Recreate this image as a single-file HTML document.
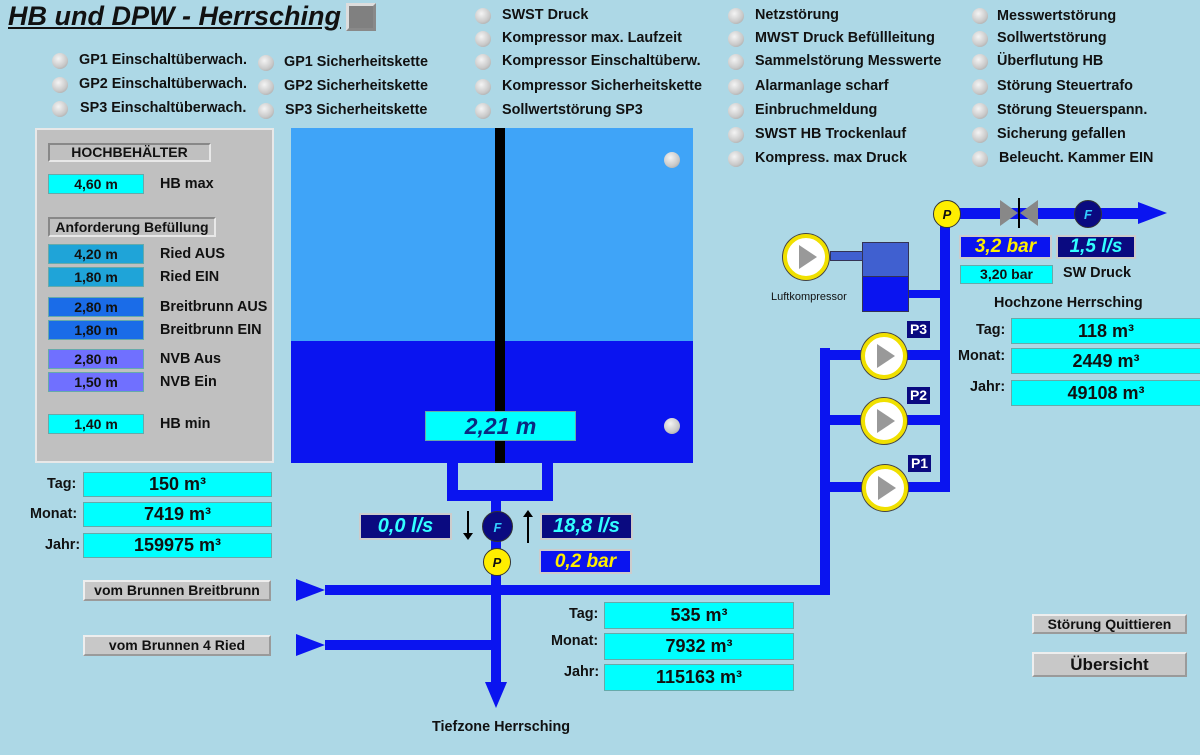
<!DOCTYPE html><html><head><meta charset="utf-8"><style>
body{margin:0;width:1200px;height:755px;background:#add8e6;position:relative;overflow:hidden;font-family:"Liberation Sans",sans-serif;font-weight:bold;color:#111}
.a{position:absolute}
.t{position:absolute;font-size:14.4px;white-space:nowrap}
.led{position:absolute;width:16px;height:16px;border-radius:50%;background:radial-gradient(circle at 40% 35%,#f4f4f4,#c8c8c8 60%,#999);}
.p{position:absolute;background:#0a14f0}
.cy{position:absolute;background:#00ffff;border:1px solid #6aa;box-sizing:border-box;text-align:center}
.btn{position:absolute;background:#c8c8c8;border:2px outset #eee;box-sizing:border-box;text-align:center;font-size:14px}
.pump{position:absolute;width:38px;height:38px;border-radius:50%;background:#fff;border:4px solid #f0e000;box-shadow:0 0 0 1px #444}
.pump:after{content:"";position:absolute;left:12px;top:7px;border-left:18px solid #999;border-top:12px solid transparent;border-bottom:12px solid transparent}
.circ{position:absolute;width:28px;height:28px;border-radius:50%;text-align:center;line-height:28px;font-style:italic;font-size:13px;border:1px solid #333;box-sizing:border-box}
.dk{position:absolute;background:#0a0a80;border:2px solid #ccc;box-sizing:border-box;color:#3ff;font-style:italic;font-size:20px;text-align:center}
</style></head><body>
<div class="a" style="left:8px;top:1px;font-size:27px;font-style:italic;text-decoration:underline">HB und DPW - Herrsching</div>
<div class="a" style="left:346px;top:3px;width:30px;height:28px;background:#808080;border:3px outset #ddd;box-sizing:border-box"></div>

<div class="led" style="left:52px;top:53px"></div><div class="t" style="left:79px;top:52px">GP1 Einschaltüberwach.</div>
<div class="led" style="left:52px;top:77px"></div><div class="t" style="left:79px;top:76px">GP2 Einschaltüberwach.</div>
<div class="led" style="left:52px;top:101px"></div><div class="t" style="left:80px;top:100px">SP3 Einschaltüberwach.</div>
<div class="led" style="left:258px;top:55px"></div><div class="t" style="left:284px;top:54px">GP1 Sicherheitskette</div>
<div class="led" style="left:258px;top:79px"></div><div class="t" style="left:284px;top:78px">GP2 Sicherheitskette</div>
<div class="led" style="left:258px;top:103px"></div><div class="t" style="left:285px;top:102px">SP3 Sicherheitskette</div>

<div class="led" style="left:475px;top:8px"></div><div class="t" style="left:502px;top:7px">SWST Druck</div>
<div class="led" style="left:475px;top:31px"></div><div class="t" style="left:502px;top:30px">Kompressor max. Laufzeit</div>
<div class="led" style="left:475px;top:54px"></div><div class="t" style="left:502px;top:53px">Kompressor Einschaltüberw.</div>
<div class="led" style="left:475px;top:79px"></div><div class="t" style="left:502px;top:78px">Kompressor Sicherheitskette</div>
<div class="led" style="left:475px;top:103px"></div><div class="t" style="left:502px;top:102px">Sollwertstörung SP3</div>

<div class="led" style="left:728px;top:8px"></div><div class="t" style="left:755px;top:7px">Netzstörung</div>
<div class="led" style="left:728px;top:31px"></div><div class="t" style="left:755px;top:30px">MWST Druck Befüllleitung</div>
<div class="led" style="left:728px;top:54px"></div><div class="t" style="left:755px;top:53px">Sammelstörung Messwerte</div>
<div class="led" style="left:728px;top:79px"></div><div class="t" style="left:755px;top:78px">Alarmanlage scharf</div>
<div class="led" style="left:728px;top:103px"></div><div class="t" style="left:755px;top:102px">Einbruchmeldung</div>
<div class="led" style="left:728px;top:127px"></div><div class="t" style="left:755px;top:126px">SWST HB Trockenlauf</div>
<div class="led" style="left:728px;top:151px"></div><div class="t" style="left:755px;top:150px">Kompress. max Druck</div>

<div class="led" style="left:972px;top:8px"></div><div class="t" style="left:997px;top:8px">Messwertstörung</div>
<div class="led" style="left:972px;top:31px"></div><div class="t" style="left:997px;top:30px">Sollwertstörung</div>
<div class="led" style="left:972px;top:54px"></div><div class="t" style="left:997px;top:53px">Überflutung HB</div>
<div class="led" style="left:972px;top:79px"></div><div class="t" style="left:997px;top:78px">Störung Steuertrafo</div>
<div class="led" style="left:972px;top:103px"></div><div class="t" style="left:997px;top:102px">Störung Steuerspann.</div>
<div class="led" style="left:972px;top:127px"></div><div class="t" style="left:997px;top:126px">Sicherung gefallen</div>
<div class="led" style="left:972px;top:151px"></div><div class="t" style="left:999px;top:150px">Beleucht. Kammer EIN</div>

<div class="a" style="left:35px;top:128px;width:239px;height:335px;background:#c0c0c0;border:2px solid #e8e8e8;box-sizing:border-box"></div>
<div class="a" style="left:48px;top:143px;width:163px;height:19px;border:2px solid #e8e8e8;border-top-color:#888;border-left-color:#888;box-sizing:border-box;text-align:center;font-size:14px;line-height:15px">HOCHBEHÄLTER</div>
<div class="cy" style="left:48px;top:174px;width:96px;height:20px;font-size:14px;line-height:18px">4,60 m</div><div class="t" style="left:160px;top:176px">HB max</div>
<div class="a" style="left:48px;top:217px;width:168px;height:20px;border:2px solid #e8e8e8;border-top-color:#888;border-left-color:#888;box-sizing:border-box;text-align:center;font-size:14px;line-height:16px">Anforderung Befüllung</div>
<div class="cy" style="left:48px;top:244px;width:96px;height:20px;background:#1fa4d8;font-size:14px;line-height:18px">4,20 m</div><div class="t" style="left:160px;top:246px">Ried AUS</div>
<div class="cy" style="left:48px;top:267px;width:96px;height:20px;background:#1fa4d8;font-size:14px;line-height:18px">1,80 m</div><div class="t" style="left:160px;top:269px">Ried EIN</div>
<div class="cy" style="left:48px;top:297px;width:96px;height:20px;background:#1a6ce8;font-size:14px;line-height:18px">2,80 m</div><div class="t" style="left:160px;top:299px">Breitbrunn AUS</div>
<div class="cy" style="left:48px;top:320px;width:96px;height:20px;background:#1a6ce8;font-size:14px;line-height:18px">1,80 m</div><div class="t" style="left:160px;top:322px">Breitbrunn EIN</div>
<div class="cy" style="left:48px;top:349px;width:96px;height:20px;background:#7070ff;font-size:14px;line-height:18px">2,80 m</div><div class="t" style="left:160px;top:351px">NVB Aus</div>
<div class="cy" style="left:48px;top:372px;width:96px;height:20px;background:#7070ff;font-size:14px;line-height:18px">1,50 m</div><div class="t" style="left:160px;top:374px">NVB Ein</div>
<div class="cy" style="left:48px;top:414px;width:96px;height:20px;font-size:14px;line-height:18px">1,40 m</div><div class="t" style="left:160px;top:416px">HB min</div>

<div class="t" style="left:47px;top:476px">Tag:</div><div class="cy" style="left:83px;top:472px;width:189px;height:25px;font-size:18px;line-height:23px">150 m³</div>
<div class="t" style="left:30px;top:506px">Monat:</div><div class="cy" style="left:83px;top:502px;width:189px;height:25px;font-size:18px;line-height:23px">7419 m³</div>
<div class="t" style="left:45px;top:537px">Jahr:</div><div class="cy" style="left:83px;top:533px;width:189px;height:25px;font-size:18px;line-height:23px">159975 m³</div>

<div class="a" style="left:291px;top:128px;width:402px;height:213px;background:#3fa4f8"></div>
<div class="a" style="left:291px;top:341px;width:402px;height:122px;background:#0a14f0"></div>
<div class="a" style="left:495px;top:128px;width:10px;height:335px;background:#000"></div>
<div class="led" style="left:664px;top:152px"></div>
<div class="led" style="left:664px;top:418px"></div>
<div class="cy" style="left:425px;top:411px;width:151px;height:30px;font-size:23px;line-height:28px;font-style:italic;color:#0a2a80">2,21 m</div>

<div class="p" style="left:447px;top:463px;width:11px;height:38px"></div>
<div class="p" style="left:542px;top:463px;width:11px;height:38px"></div>
<div class="p" style="left:447px;top:490px;width:106px;height:11px"></div>
<div class="p" style="left:491px;top:500px;width:10px;height:183px"></div>
<div class="a" style="left:485px;top:682px;border-top:26px solid #0a14f0;border-left:11px solid transparent;border-right:11px solid transparent"></div>
<div class="p" style="left:325px;top:585px;width:505px;height:10px"></div>
<div class="a" style="left:296px;top:579px;border-left:29px solid #0a14f0;border-top:11px solid transparent;border-bottom:11px solid transparent"></div>
<div class="p" style="left:325px;top:640px;width:170px;height:10px"></div>
<div class="a" style="left:296px;top:634px;border-left:29px solid #0a14f0;border-top:11px solid transparent;border-bottom:11px solid transparent"></div>
<div class="p" style="left:820px;top:348px;width:10px;height:247px"></div>
<div class="p" style="left:820px;top:350px;width:130px;height:10px"></div>
<div class="p" style="left:820px;top:415px;width:130px;height:10px"></div>
<div class="p" style="left:820px;top:482px;width:130px;height:10px"></div>
<div class="p" style="left:940px;top:214px;width:10px;height:278px"></div>
<div class="p" style="left:947px;top:208px;width:193px;height:11px"></div>
<div class="a" style="left:1138px;top:202px;border-left:29px solid #0a14f0;border-top:11px solid transparent;border-bottom:11px solid transparent"></div>
<div class="p" style="left:905px;top:290px;width:40px;height:8px"></div>

<div class="a" style="left:1000px;top:200px;border-left:18px solid #888;border-top:13px solid transparent;border-bottom:13px solid transparent"></div>
<div class="a" style="left:1020px;top:200px;border-right:18px solid #888;border-top:13px solid transparent;border-bottom:13px solid transparent"></div>
<div class="a" style="left:1018px;top:198px;width:2px;height:30px;background:#000"></div>
<div class="circ" style="left:1074px;top:200px;background:#0a0a80;color:#3cf">F</div>
<div class="circ" style="left:933px;top:200px;background:#ffee00">P</div>

<div class="pump" style="left:783px;top:234px"></div>
<div class="a" style="left:830px;top:251px;width:36px;height:8px;background:#4060d0;border:1px solid #335"></div>
<div class="a" style="left:862px;top:242px;width:45px;height:34px;background:#4060d0;border:1px solid #335"></div>
<div class="a" style="left:862px;top:276px;width:45px;height:34px;background:#0a14f0;border:1px solid #335"></div>
<div class="t" style="left:771px;top:291px;font-size:11px;font-weight:normal">Luftkompressor</div>

<div class="pump" style="left:861px;top:333px"></div>
<div class="pump" style="left:861px;top:398px"></div>
<div class="pump" style="left:862px;top:465px"></div>
<div class="a" style="left:907px;top:321px;width:23px;height:17px;background:#0a0a80;color:#fff;font-size:14px;text-align:center;line-height:17px">P3</div>
<div class="a" style="left:907px;top:387px;width:23px;height:17px;background:#0a0a80;color:#fff;font-size:14px;text-align:center;line-height:17px">P2</div>
<div class="a" style="left:908px;top:455px;width:23px;height:17px;background:#0a0a80;color:#fff;font-size:14px;text-align:center;line-height:17px">P1</div>

<div class="dk" style="left:959px;top:235px;width:93px;height:24px;background:#0a14f0;color:#ffee00;font-size:19px;line-height:20px">3,2 bar</div>
<div class="dk" style="left:1056px;top:235px;width:80px;height:24px;font-size:19px;line-height:20px">1,5 l/s</div>
<div class="cy" style="left:960px;top:265px;width:93px;height:19px;font-size:14px;line-height:17px">3,20 bar</div>
<div class="t" style="left:1063px;top:265px">SW Druck</div>
<div class="t" style="left:994px;top:295px">Hochzone Herrsching</div>
<div class="t" style="left:976px;top:322px">Tag:</div><div class="cy" style="left:1011px;top:318px;width:190px;height:26px;font-size:18px;line-height:24px">118 m³</div>
<div class="t" style="left:958px;top:348px">Monat:</div><div class="cy" style="left:1011px;top:348px;width:190px;height:26px;font-size:18px;line-height:24px">2449 m³</div>
<div class="t" style="left:970px;top:379px">Jahr:</div><div class="cy" style="left:1011px;top:380px;width:190px;height:26px;font-size:18px;line-height:24px">49108 m³</div>

<div class="dk" style="left:359px;top:513px;width:93px;height:27px;line-height:23px">0,0 l/s</div>
<div class="dk" style="left:540px;top:513px;width:93px;height:27px;line-height:23px">18,8 l/s</div>
<div class="dk" style="left:539px;top:549px;width:93px;height:25px;background:#0a14f0;color:#ffee00;font-size:19px;line-height:21px">0,2 bar</div>
<div class="a" style="left:467px;top:511px;width:2px;height:25px;background:#000"></div>
<div class="a" style="left:463px;top:533px;border-top:7px solid #000;border-left:5px solid transparent;border-right:5px solid transparent"></div>
<div class="a" style="left:527px;top:517px;width:2px;height:26px;background:#000"></div>
<div class="a" style="left:523px;top:510px;border-bottom:7px solid #000;border-left:5px solid transparent;border-right:5px solid transparent"></div>
<div class="circ" style="left:482px;top:511px;width:31px;height:31px;line-height:31px;background:#0a0a80;color:#3cf">F</div>
<div class="circ" style="left:483px;top:548px;background:#ffee00">P</div>

<div class="t" style="left:569px;top:606px">Tag:</div><div class="cy" style="left:604px;top:602px;width:190px;height:27px;font-size:18px;line-height:25px">535 m³</div>
<div class="t" style="left:551px;top:633px">Monat:</div><div class="cy" style="left:604px;top:633px;width:190px;height:27px;font-size:18px;line-height:25px">7932 m³</div>
<div class="t" style="left:564px;top:664px">Jahr:</div><div class="cy" style="left:604px;top:664px;width:190px;height:27px;font-size:18px;line-height:25px">115163 m³</div>

<div class="btn" style="left:83px;top:580px;width:188px;height:21px;line-height:17px">vom Brunnen Breitbrunn</div>
<div class="btn" style="left:83px;top:635px;width:188px;height:21px;line-height:17px">vom Brunnen 4 Ried</div>
<div class="t" style="left:432px;top:719px">Tiefzone Herrsching</div>
<div class="btn" style="left:1032px;top:614px;width:155px;height:20px;line-height:16px">Störung Quittieren</div>
<div class="btn" style="left:1032px;top:652px;width:155px;height:25px;line-height:21px;font-size:17px">Übersicht</div>
</body></html>
